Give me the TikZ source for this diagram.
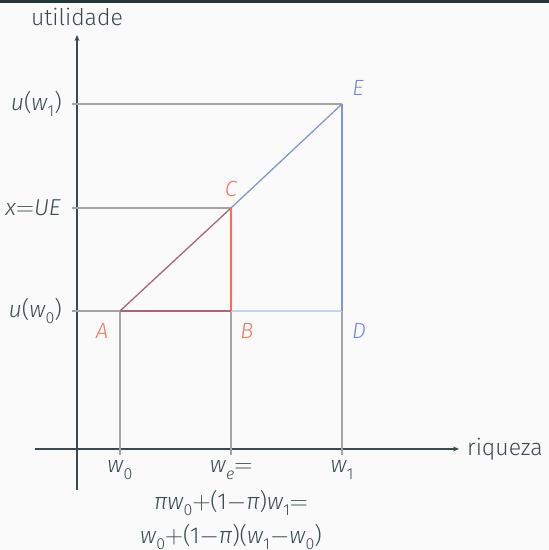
\documentclass[tikz,border=0pt]{standalone}
\usepackage{fontspec}
\setmainfont{Fira Sans}[UprightFont={* Light},ItalicFont={* Light Italic}]
\usetikzlibrary{arrows.meta}
\definecolor{bgc}{HTML}{FAFAFA}
\definecolor{barc}{HTML}{23373B}
\definecolor{axc}{HTML}{3A4B4F}
\definecolor{grc}{HTML}{A4A4A4}
\definecolor{redl}{HTML}{FF6A55}
\definecolor{redt}{HTML}{F4785A}
\definecolor{bluel}{HTML}{8595CF}
\definecolor{bluet}{HTML}{6D8BE2}
\definecolor{lbluel}{HTML}{C8D2F2}
\definecolor{mixl}{HTML}{A8667E}
\newcommand{\sbs}[1]{\raisebox{-0.28em}{\fontsize{16}{16}\selectfont #1}}
\newcommand{\mi}[1]{\textit{#1}}
\newcommand{\meq}{\ensuremath{=}}
\newcommand{\mpl}{\ensuremath{+}}
\newcommand{\mmi}{\ensuremath{-}}
\begin{document}
\begin{tikzpicture}[x=1pt,y=-1pt,
  txt/.style={inner sep=0pt,font=\fontsize{23}{27}\selectfont,text=axc},
  lbl/.style={inner sep=0pt,font=\fontsize{22}{26}\selectfont\itshape},
  axis/.style={draw=axc,line width=1.1pt,-{Stealth[length=6pt,width=5pt]}},
  gl/.style={draw=grc,line width=1.1pt}]
\fill[bgc] (0,0) rectangle (549,550);
\fill[barc] (0,0) rectangle (549,3);
\useasboundingbox (0,0) rectangle (549,550);
% coordinates
\coordinate (O1) at (77,490);
\coordinate (Ytop) at (77,35);
\coordinate (X0) at (35,449);
\coordinate (Xend) at (459,449);
\coordinate (A) at (120,311);
\coordinate (B) at (231,311);
\coordinate (C) at (231,208);
\coordinate (D) at (342,311);
\coordinate (E) at (342,104);
\coordinate (T0) at (120,455);
\coordinate (Te) at (231,455);
\coordinate (T1) at (342,455);
\coordinate (H0) at (72,311);
\coordinate (Hx) at (72,208);
\coordinate (H1) at (72,104);
% axes
\draw[axis] (O1) -- (Ytop);
\draw[axis] (X0) -- (Xend);
% gray guides
\draw[gl] (H1) -- (E);
\draw[gl] (Hx) -- (C);
\draw[gl] (H0) -- (A);
\draw[gl] (T0) -- (A);
\draw[gl] (Te) -- (B);
\draw[gl] (T1) -- (D);
% colored
\draw[lbluel,line width=1.3pt] (B) -- (D);
\draw[bluel,line width=1.3pt] (D) -- (E);
\draw[bluel,line width=1.3pt] (C) -- (E);
\draw[mixl,line width=1.3pt] (A) -- (C);
\draw[mixl,line width=1.3pt] (A) -- (B);
\draw[redl,line width=1.3pt] (B) -- (C);
% labels
\node[txt] (ylab) at (77,17) {utilidade};
\node[txt,anchor=west] (xlab) at (467,449) {riqueza};
\node[txt,anchor=east] (lu1) at (62,104) {\mi{u}(\mi{w}\sbs{1})};
\node[txt,anchor=east] (lx) at (61,208) {\mi{x}\meq\mi{UE}};
\node[txt,anchor=east] (lu0) at (62,311) {\mi{u}(\mi{w}\sbs{0})};
\node[lbl,text=redt] (lA) at (102,331) {A};
\node[lbl,text=redt] (lB) at (247,331) {B};
\node[lbl,text=redt] (lC) at (231,189) {C};
\node[lbl,text=bluet] (lD) at (359,331) {D};
\node[lbl,text=bluet] (lE) at (358,88) {E};
\node[txt] (lw0) at (120,470) {\mi{w}\sbs{0}};
\node[txt] (lwe) at (231,470) {\mi{w}\sbs{\mi{e}}\meq};
\node[txt] (lw1) at (342,470) {\mi{w}\sbs{1}};
\node[txt] (l2) at (231,503) {\mi{π}\mi{w}\sbs{0}\mpl(1\mmi\mi{π})\mi{w}\sbs{1}\meq};
\node[txt] (l3) at (231,537) {\mi{w}\sbs{0}\mpl(1\mmi\mi{π})(\mi{w}\sbs{1}\mmi\mi{w}\sbs{0})};
\end{tikzpicture}
\end{document}
